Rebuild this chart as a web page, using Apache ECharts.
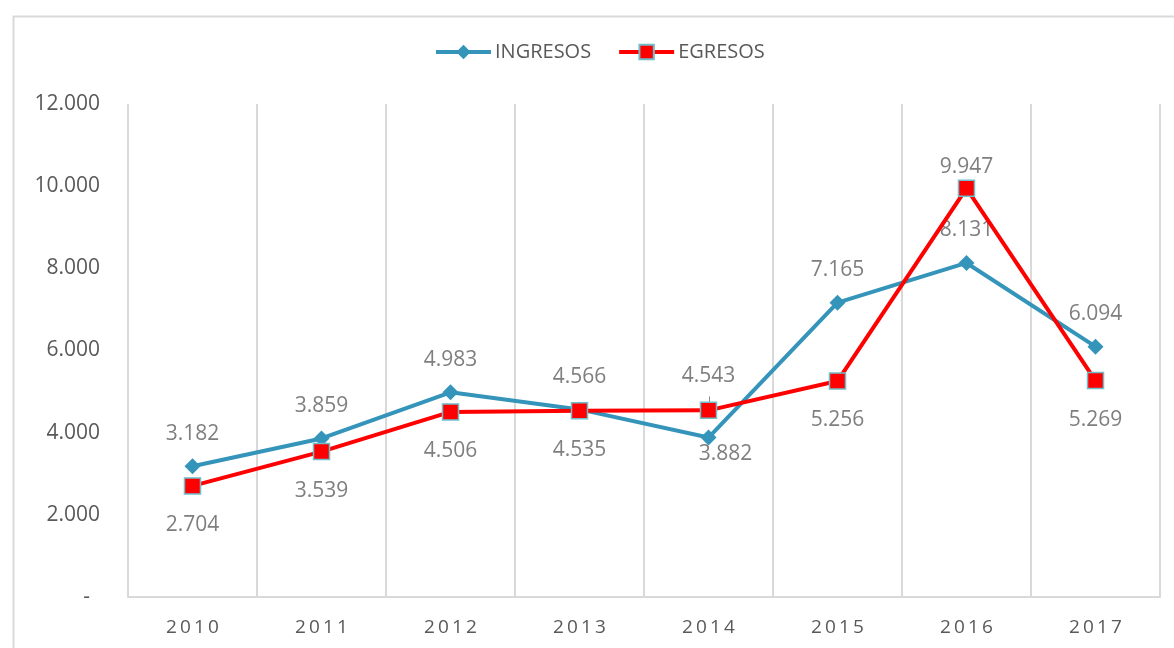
<!DOCTYPE html>
<html>
<head>
<meta charset="utf-8">
<script src="https://cdn.jsdelivr.net/npm/echarts@6/dist/echarts.min.js"></script>
<style>
html,body{margin:0;padding:0;background:#fff;}
#c{width:1174px;height:648px;}
</style>
</head>
<body>
<div id="c"></div>
<script>
var categories = ['2010','2011','2012','2013','2014','2015','2016','2017'];
var ingresos = [3182, 3859, 4983, 4566, 3882, 7165, 8131, 6094];
var egresos = [2704, 3539, 4506, 4535, 4543, 5256, 9947, 5269];
var yTicks = [0, 2000, 4000, 6000, 8000, 10000, 12000];

function fmt(v){
  return String(v).replace(/\B(?=(\d{3})+(?!\d))/g, '.');
}

var FONT = 'Open Sans';
var chart = echarts.init(document.getElementById('c'), null, {renderer:'canvas'});

function labelFor(seriesName, i){
  // default: INGRESOS above, EGRESOS below
  var l = seriesName === 'INGRESOS' ? {position: 'top', distance: 14} : {position: 'bottom', distance: 20};
  if (seriesName === 'INGRESOS' && i === 4) { l = {position:'bottom', distance: -2, offset:[17,0]}; }
  if (seriesName === 'EGRESOS' && i === 4) { l = {position:'top', distance: 15}; }
  if (seriesName === 'EGRESOS' && i === 6) { l = {position:'top', distance: 2}; }
  return l;
}

function buildData(name, arr){
  return arr.map(function(v,i){
    return {value: v, label: labelFor(name, i)};
  });
}

var labelStyle = {
  show: true,
  color: '#7F7F7F',
  fontFamily: FONT,
  fontSize: 21,
  formatter: function(p){ return fmt(p.value); }
};

chart.setOption({
  animation: false,
  backgroundColor: '#fff',
  graphic: [{
    type: 'rect',
    left: 11, top: 14,
    shape: {width: 1200, height: 700},
    style: {fill: 'none', stroke: '#D9D9D9', lineWidth: 2},
    silent: true
  }, {
    type: 'line',
    left: 707, top: 394,
    shape: {x1: 0, y1: 0, x2: 0, y2: 14},
    style: {stroke: '#8C8C8C', lineWidth: 1},
    silent: true,
    z: 1
  }],
  legend: {
    top: 37,
    left: 429,
    itemWidth: 55,
    itemHeight: 18,
    itemGap: 26,
    lineStyle: {width: 4},
    textStyle: {color: '#595959', fontFamily: FONT, fontSize: 20, padding: [0,0,0,-1]},
    data: [
      {name: 'INGRESOS', lineStyle: {width: 4, color: '#3494BA'}},
      {name: 'EGRESOS', lineStyle: {width: 4, color: '#FF0000'}}
    ]
  },
  grid: {left: 128, right: 14, top: 104, bottom: 51, containLabel: false},
  xAxis: {
    type: 'category',
    data: categories,
    boundaryGap: true,
    axisLine: {show: true, lineStyle: {color: '#D9D9D9', width: 2}},
    axisTick: {show: false},
    splitLine: {show: true, interval: 0, lineStyle: {color: '#D9D9D9', width: 2}},
    axisLabel: {
      color: '#595959', fontFamily: FONT, fontSize: 19, margin: 21, interval: 0,
      formatter: function(v){ return v.split('').join('\u2009'); }
    }
  },
  yAxis: {
    type: 'value',
    min: yTicks[0],
    max: yTicks[yTicks.length-1],
    interval: yTicks[1] - yTicks[0],
    axisLine: {show: false},
    axisTick: {show: false},
    splitLine: {show: false},
    axisLabel: {
      color: '#595959', fontFamily: FONT, fontSize: 21, margin: 28,
      formatter: function(v){ return v === 0 ? '{d|-}' : fmt(v); },
      rich: {d: {color: '#595959', fontFamily: FONT, fontSize: 21, padding: [0, 10, 0, 0]}}
    }
  },
  series: [{
    name: 'INGRESOS',
    type: 'line',
    data: buildData('INGRESOS', ingresos),
    symbol: 'diamond',
    symbolSize: 16,
    lineStyle: {color: '#3494BA', width: 4},
    itemStyle: {color: '#3494BA'},
    label: labelStyle,
    z: 2
  }, {
    name: 'EGRESOS',
    type: 'line',
    data: buildData('EGRESOS', egresos),
    symbol: 'rect',
    symbolSize: 16,
    lineStyle: {color: '#FF0000', width: 4},
    itemStyle: {color: '#FF0000', borderColor: '#6FBFCB', borderWidth: 1.5},
    label: labelStyle,
    z: 3
  }]
});
</script>
</body>
</html>
